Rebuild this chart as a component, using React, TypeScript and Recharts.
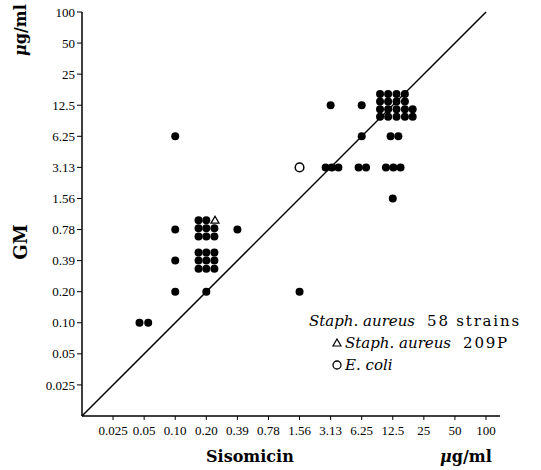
import { ScatterChart, Scatter, XAxis, YAxis, ReferenceLine } from "recharts";

// dilution steps, index 0 = 0.025 µg/ml (same on both axes)
const TICK_LABELS = ["0.025", "0.05", "0.10", "0.20", "0.39", "0.78", "1.56", "3.13", "6.25", "12.5", "25", "50", "100"];
const TICKS = TICK_LABELS.map((_, i) => i);

// MIC pairs in dilution steps; fractional parts spread strains sharing a cell
const STAPH_58 = [
  { x: 0.85, y: 2 }, { x: 1.13, y: 2 },
  { x: 2, y: 8 }, { x: 2, y: 5 }, { x: 2, y: 4 }, { x: 2, y: 3 },
  { x: 2.75, y: 5.3 }, { x: 3.0, y: 5.3 },
  { x: 2.75, y: 5.04 }, { x: 3.0, y: 5.04 }, { x: 3.26, y: 5.04 },
  { x: 2.75, y: 4.78 }, { x: 3.0, y: 4.78 }, { x: 3.26, y: 4.78 },
  { x: 2.75, y: 4.26 }, { x: 3.0, y: 4.26 }, { x: 3.26, y: 4.26 },
  { x: 2.75, y: 4.0 }, { x: 3.0, y: 4.0 }, { x: 3.26, y: 4.0 },
  { x: 2.75, y: 3.74 }, { x: 3.0, y: 3.74 }, { x: 3.26, y: 3.74 },
  { x: 3, y: 3 }, { x: 4, y: 5 }, { x: 6, y: 3 },
  { x: 6.84, y: 7 }, { x: 7.04, y: 7 }, { x: 7.25, y: 7 },
  { x: 7, y: 9 },
  { x: 7.9, y: 7 }, { x: 8.14, y: 7 },
  { x: 8, y: 8 }, { x: 8, y: 9 },
  { x: 8.59, y: 9.36 }, { x: 8.85, y: 9.36 }, { x: 9.12, y: 9.36 }, { x: 9.39, y: 9.36 },
  { x: 8.59, y: 9.12 }, { x: 8.85, y: 9.12 }, { x: 9.12, y: 9.12 }, { x: 9.39, y: 9.12 },
  { x: 8.59, y: 8.87 }, { x: 8.85, y: 8.87 }, { x: 9.12, y: 8.87 }, { x: 9.39, y: 8.87 }, { x: 9.64, y: 8.87 },
  { x: 8.59, y: 8.63 }, { x: 8.85, y: 8.63 }, { x: 9.12, y: 8.63 }, { x: 9.39, y: 8.63 }, { x: 9.64, y: 8.63 },
  { x: 8.93, y: 8 }, { x: 9.18, y: 8 },
  { x: 8.78, y: 7 }, { x: 9.02, y: 7 }, { x: 9.25, y: 7 },
  { x: 9, y: 6 },
];
const STAPH_209P = [{ x: 3.28, y: 5.3 }];
const E_COLI = [{ x: 6, y: 7 }];

const SERIF = "'Liberation Serif', serif";
const WIDE_SERIF = "'DejaVu Serif', serif";

const Dot = (p: any) => <circle cx={p.cx} cy={p.cy} r={4} fill="#000" />;
const Tri = (p: any) => (
  <path
    d={`M${p.cx},${p.cy - 4} L${p.cx + 4},${p.cy + 3} L${p.cx - 4},${p.cy + 3} Z`}
    fill="#fff"
    stroke="#000"
    strokeWidth={1.3}
  />
);
const Ring = (p: any) => <circle cx={p.cx} cy={p.cy} r={4.3} fill="#fff" stroke="#000" strokeWidth={1.5} />;

const tickStyle = { fontSize: 13, fill: "#000", fontFamily: SERIF };
const fmt = (v: number) => TICK_LABELS[v] ?? "";

const upright = { fontStyle: "normal", letterSpacing: 1.8, marginLeft: 12 } as const;

export default function App() {
  return (
    <div style={{ position: "absolute", left: 0, top: 0, width: 541, height: 470, background: "#fff" }}>
      <ScatterChart width={541} height={470} margin={{ top: 12, right: 41, left: 22, bottom: 24 }}>
        <XAxis
          type="number"
          dataKey="x"
          domain={[-1, 12.45]}
          ticks={TICKS}
          interval={0}
          tickFormatter={fmt}
          tick={tickStyle}
          tickSize={4}
          tickMargin={6}
          height={30}
          allowDataOverflow
          axisLine={{ stroke: "#000", strokeWidth: 1.5 }}
          tickLine={{ stroke: "#000" }}
        />
        <YAxis
          type="number"
          dataKey="y"
          domain={[-1, 12]}
          ticks={TICKS}
          interval={0}
          tickFormatter={fmt}
          tick={tickStyle}
          tickSize={5}
          tickMargin={2}
          width={60}
          allowDataOverflow
          axisLine={{ stroke: "#000", strokeWidth: 1.5 }}
          tickLine={{ stroke: "#000" }}
        />
        <ReferenceLine
          segment={[{ x: -1, y: -1 }, { x: 12, y: 12 }]}
          stroke="#000"
          strokeWidth={1.5}
        />
        <Scatter data={STAPH_58} shape={Dot} isAnimationActive={false} />
        <Scatter data={STAPH_209P} shape={Tri} isAnimationActive={false} />
        <Scatter data={E_COLI} shape={Ring} isAnimationActive={false} />
      </ScatterChart>

      {/* axis titles */}
      <div style={{ position: "absolute", left: 206, top: 447, fontFamily: WIDE_SERIF, fontWeight: 700, fontSize: 16 }}>
        Sisomicin
      </div>
      <div style={{ position: "absolute", left: 440, top: 447, fontFamily: WIDE_SERIF, fontWeight: 700, fontSize: 16 }}>
        <i>μ</i>g/ml
      </div>
      <div
        style={{
          position: "absolute", left: 20, top: 242, fontFamily: WIDE_SERIF, fontWeight: 700, fontSize: 18,
          transform: "translate(-50%, -50%) rotate(-90deg)", whiteSpace: "nowrap",
        }}
      >
        GM
      </div>
      <div
        style={{
          position: "absolute", left: 20, top: 30, fontFamily: WIDE_SERIF, fontWeight: 700, fontSize: 16,
          transform: "translate(-50%, -50%) rotate(-90deg)", whiteSpace: "nowrap",
        }}
      >
        <i>μ</i>g/ml
      </div>

      {/* legend */}
      <div style={{ position: "absolute", left: 309, top: 312, fontFamily: WIDE_SERIF, fontSize: 15, whiteSpace: "nowrap" }}>
        <i>Staph. aureus</i>
        <span style={upright}>58 strains</span>
      </div>
      <svg style={{ position: "absolute", left: 330, top: 336 }} width={14} height={36}>
        <path d="M7,3 L11,10 L3,10 Z" fill="#fff" stroke="#000" strokeWidth={1.2} />
        <circle cx={7} cy={29} r={4} fill="#fff" stroke="#000" strokeWidth={1.3} />
      </svg>
      <div style={{ position: "absolute", left: 345, top: 334, fontFamily: WIDE_SERIF, fontSize: 15, whiteSpace: "nowrap" }}>
        <i>Staph. aureus</i>
        <span style={upright}>209P</span>
      </div>
      <div style={{ position: "absolute", left: 345, top: 356, fontFamily: WIDE_SERIF, fontSize: 15, whiteSpace: "nowrap" }}>
        <i>E. coli</i>
      </div>
    </div>
  );
}
